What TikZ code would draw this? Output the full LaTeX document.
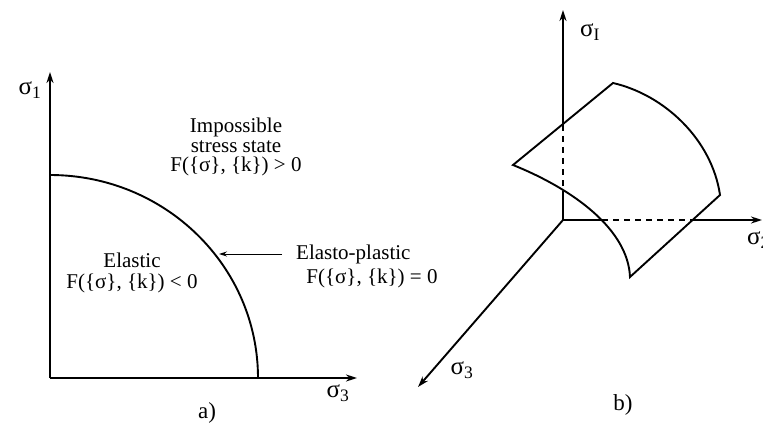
\documentclass[tikz,border=0pt]{standalone}
\usepackage{fontspec}
\setmainfont{Liberation Serif}
\usetikzlibrary{arrows.meta}

\begin{document}
\begin{tikzpicture}[
  x=1pt,
  y=-1pt,
  axis/.style={line width=1.9pt, -{Stealth[length=11pt,width=7pt]}},
  hidden/.style={line width=1.8pt, dash pattern=on 6pt off 5pt},
  edge/.style={line width=1.9pt, line join=miter},
  pointer/.style={line width=0.9pt, -{Stealth[length=8pt,width=5pt]}},
  lbl/.style={font=\fontsize{21}{19.5}\selectfont, align=center, inner sep=0pt},
  sig/.style={font=\fontsize{25}{25}\selectfont, inner sep=0pt},
  tag/.style={font=\fontsize{23}{23}\selectfont, inner sep=0pt}
]
  \useasboundingbox (0,0) rectangle (763,425);

  % a) yield curve in the sigma1-sigma3 plane
  \coordinate (oa) at (50,378);
  \coordinate (s1top) at (50,72);
  \coordinate (s3end) at (357,378);
  \coordinate (ytop) at (50,175);
  \coordinate (ep) at (219,254);
  \draw[axis] (oa) -- (s1top);
  \draw[axis] (oa) -- (s3end);
  \draw[edge] (ytop) arc[start angle=-90, end angle=0, x radius=208, y radius=203];
  \node[sig] (s1lbl) at (30,90) {σ\textsubscript{1}};
  \node[sig] (s3lbl) at (338,393) {σ\textsubscript{3}};
  \node[lbl] (imp) at (236,147) {Impossible\\stress state\\F(\{σ\}, \{k\}) > 0};
  \node[lbl] (elastic) at (132,273) {Elastic\\[2pt]F(\{σ\}, \{k\}) < 0};
  \node[lbl, anchor=west] (elasto) at (296,254) {Elasto-plastic};
  \node[lbl] (elastoF) at (372,278) {F(\{σ\}, \{k\}) = 0};
  \draw[pointer, shorten <=14pt] (elasto.west) -- (ep);
  \node[tag] (taga) at (207,413) {a)};

  % b) yield surface in principal stress space
  \coordinate (ob) at (563,220);
  \coordinate (s1b) at (563,10);
  \coordinate (s2b) at (762,220);
  \coordinate (s3b) at (418,387);
  \coordinate (vtop) at (563,125);
  \coordinate (vbot) at (563,192);
  \coordinate (hl) at (602,220);
  \coordinate (hr) at (693,220);
  \coordinate (pl) at (513,165);
  \coordinate (pt) at (613,83);
  \coordinate (pr) at (720,195);
  \coordinate (pb) at (630,277);
  \draw[axis] (vtop) -- (s1b);
  \draw[axis] (hr) -- (s2b);
  \draw[axis] (ob) -- (s3b);
  \draw[edge] (vbot) -- (ob) -- (hl);
  \draw[hidden] (vtop) -- (vbot);
  \draw[hidden] (hl) -- (hr);
  \draw[edge] (pb) .. controls (628,230) and (575,190) .. (pl) -- (pt)
    .. controls (665,95) and (712,140) .. (pr) -- cycle;
  \node[sig] (s1blbl) at (590,32) {σ\textsubscript{I}};
  \node[sig, anchor=west] (s2blbl) at (747,240) {σ\textsubscript{2}};
  \node[sig] (s3blbl) at (462,370) {σ\textsubscript{3}};
  \node[tag] (tagb) at (623,405) {b)};
\end{tikzpicture}
\end{document}
